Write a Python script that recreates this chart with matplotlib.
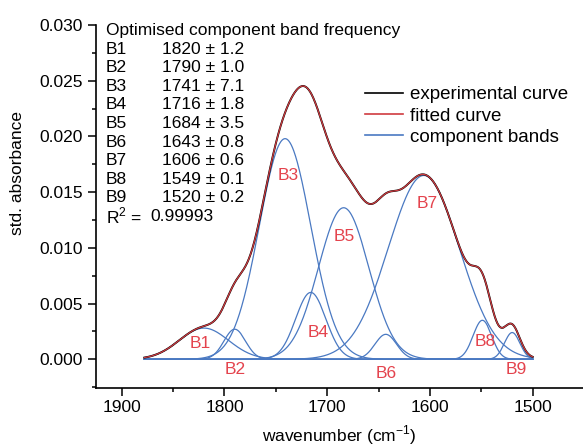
import numpy as np
import matplotlib
matplotlib.use("Agg")
import matplotlib.pyplot as plt
from matplotlib.ticker import MultipleLocator, FormatStrFormatter

plt.rcParams['font.family'] = ['Liberation Sans', 'DejaVu Sans']

# ---- data ----
bands = ["B1", "B2", "B3", "B4", "B5", "B6", "B7", "B8", "B9"]
freqs = [1820, 1790, 1741, 1716, 1684, 1643, 1606, 1549, 1520]
errs = ["1.2", "1.0", "7.1", "1.8", "3.5", "0.8", "0.6", "0.1", "0.2"]
r2_text = "0.99993"
# component band parameters (height, gaussian width) estimated from the figure
heights = [0.0028, 0.0027, 0.0198, 0.0060, 0.0136, 0.00224, 0.0165, 0.0035, 0.0024]
widths = [24, 10.5, 25, 14.7, 24.5, 10.5, 34.5, 9, 7.5]
wn_start, wn_end = 1878, 1500
# label positions of band names (wavenumber, absorbance)
label_x = [1824, 1790, 1738, 1709, 1683, 1643, 1603, 1546, 1516]
label_y = [0.00144, -0.00096, 0.0165, 0.0024, 0.0110, -0.00126, 0.0140, 0.00158, -0.00096]

xticks = [1900, 1800, 1700, 1600, 1500]

C_RED = "#cf3b40"
C_BLUE = "#4a79c2"
C_LAB = "#e4434d"

W, H = 583, 448
fig = plt.figure(figsize=(W / 100, H / 100), dpi=100)
ax_l, ax_r, ax_b, ax_t = 95.5, 599.0, 387.7, 25.0
ax = fig.add_axes([ax_l / W, (H - ax_b) / H, (ax_r - ax_l) / W, (ax_b - ax_t) / H])

x = np.linspace(wn_end, wn_start, 900)
comps = [h * np.exp(-(x - c) ** 2 / (2 * s ** 2)) for c, h, s in zip(freqs, heights, widths)]
total = np.sum(comps, axis=0)

for i, cmp in enumerate(comps):
    ax.plot(x, cmp, color=C_BLUE, lw=0.9, label="component bands" if i == 0 else None, zorder=2)
ax.plot(x, total, color="black", lw=1.4, label="experimental curve", zorder=3)
ax.plot(x, total, color=C_RED, lw=0.9, label="fitted curve", zorder=4)

for b, lx, ly in zip(bands, label_x, label_y):
    ax.text(lx, ly, b, color=C_LAB, fontsize=12.5, ha="center", va="center", zorder=5)

ax.set_xlim(1925.5, 1435.5)
ax.set_ylim(-0.00255, 0.030)
ax.set_xticks(xticks)
ax.xaxis.set_minor_locator(MultipleLocator(50))
ax.yaxis.set_major_locator(MultipleLocator(0.005))
ax.yaxis.set_minor_locator(MultipleLocator(0.0025))
ax.yaxis.set_major_formatter(FormatStrFormatter("%.3f"))

for sp in ["top", "right"]:
    ax.spines[sp].set_visible(False)
for sp in ["left", "bottom"]:
    ax.spines[sp].set_linewidth(1.2)
ax.tick_params(which="major", direction="out", length=6, width=1.1, labelsize=12.5, pad=3)
ax.tick_params(which="minor", direction="out", length=3, width=1.1)

ax.set_xlabel("wavenumber (cm$^{\\mathregular{-1}}$)", fontsize=12.5)
ax.set_ylabel("std. absorbance", fontsize=12.5)
ax.yaxis.set_label_coords(-(ax_l - 25.5) / (ax_r - ax_l), (ax_b - 172.5) / (ax_b - ax_t))
ax.xaxis.set_label_coords((339 - ax_l) / (ax_r - ax_l), -(423 - ax_b) / (ax_b - ax_t))

def fx(px):
    return (px - ax_l) / (ax_r - ax_l)

def fy(py):
    return (ax_b - py) / (ax_b - ax_t)

fs = 12.5
ax.text(fx(106), fy(30), "Optimised component band frequency", transform=ax.transAxes,
        fontsize=fs, va="center", ha="left")
for i, (b, f, e) in enumerate(zip(bands, freqs, errs)):
    yy = 49 + 18.6 * i
    ax.text(fx(106), fy(yy), b, transform=ax.transAxes, fontsize=fs, va="center", ha="left")
    ax.text(fx(161.7), fy(yy), f"{f} \u00b1 {e}", transform=ax.transAxes, fontsize=fs,
            va="center", ha="left")
yy = 49 + 18.6 * 9
ax.text(fx(106), fy(yy), "R$^{\\mathregular{2}}$ =", transform=ax.transAxes, fontsize=fs,
        va="center", ha="left")
ax.text(fx(150), fy(yy), r2_text, transform=ax.transAxes, fontsize=fs, va="center", ha="left")

handles, labels = ax.get_legend_handles_labels()
order = [labels.index("experimental curve"), labels.index("fitted curve"), labels.index("component bands")]
leg = ax.legend([handles[i] for i in order], [labels[i] for i in order],
                loc="upper left", bbox_to_anchor=(fx(365), fy(86)), frameon=False,
                fontsize=13.5, handlelength=2.03, handletextpad=0.37, labelspacing=0.23,
                borderpad=0, borderaxespad=0)
for lh in leg.get_lines():
    lh.set_linewidth(1.2)

fig.savefig("out.png", dpi=100)
